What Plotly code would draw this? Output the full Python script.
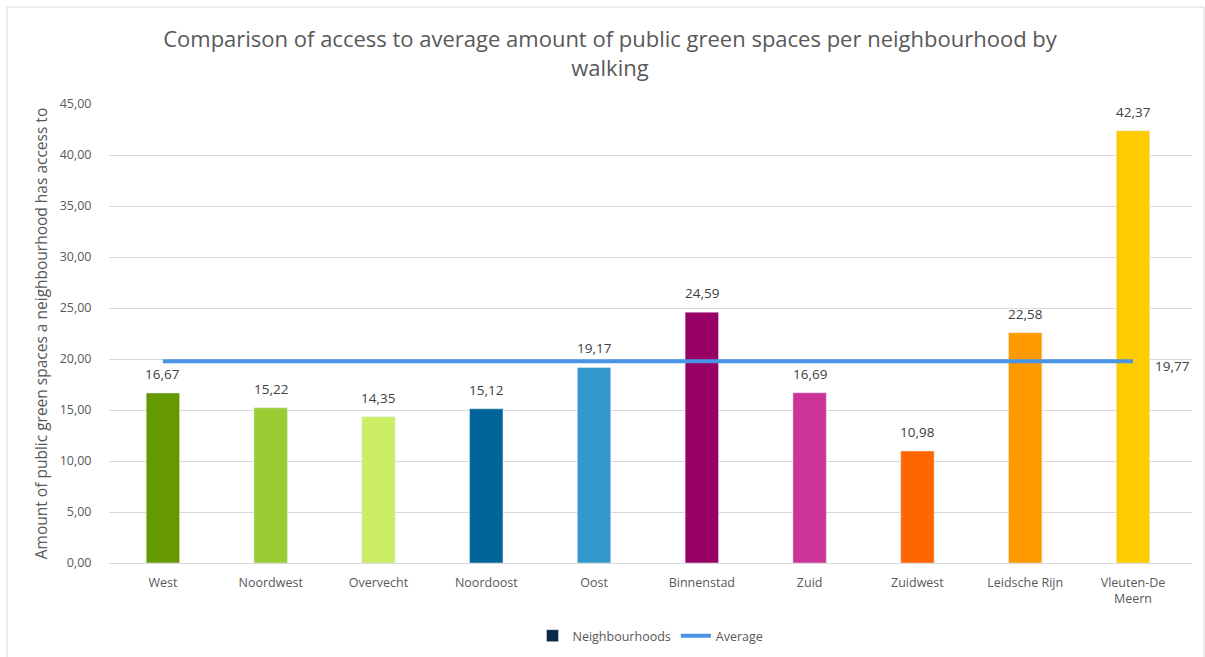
import plotly.graph_objects as go

categories = ["West", "Noordwest", "Overvecht", "Noordoost", "Oost", "Binnenstad",
              "Zuid", "Zuidwest", "Leidsche Rijn", "Vleuten-De Meern"]
tick_labels = ["West", "Noordwest", "Overvecht", "Noordoost", "Oost", "Binnenstad",
               "Zuid", "Zuidwest", "Leidsche Rijn", "Vleuten-De<br>Meern"]
values = [16.67, 15.22, 14.35, 15.12, 19.17, 24.59, 16.69, 10.98, 22.58, 42.37]
average = [19.77] * len(categories)
bar_colors = ["#669900", "#99cc33", "#ccee66", "#006699", "#3399cc",
              "#990066", "#cc3399", "#ff6600", "#ff9900", "#ffcc00"]

FONT = "Open Sans, Segoe UI, sans-serif"
GREY = "#595959"

fig = go.Figure()
fig.add_trace(go.Bar(
    x=categories, y=values, marker_color=bar_colors, width=0.31,
    showlegend=False, hoverinfo="x+y"))
# legend proxy
fig.add_trace(go.Bar(x=[categories[0]], y=[None], marker_color="#0b2a47",
                     name="Neighbourhoods", showlegend=True))
fig.add_trace(go.Scatter(x=categories, y=average, mode="lines", name="Average",
                         line=dict(color="#4a94e6", width=4)))

for c, v in zip(categories, values):
    fig.add_annotation(x=c, y=v, text=f"{v:.2f}".replace(".", ","), showarrow=False,
                       xanchor="center", yanchor="bottom", yshift=8,
                       font=dict(size=13.5, color="#404040", family=FONT))

fig.add_annotation(x=categories[-1], y=average[-1], text="19,77", showarrow=False,
                   xanchor="left", yanchor="middle", xshift=20, yshift=-5,
                   font=dict(size=13.5, color="#404040", family=FONT))

L, R, T, B = 109, 13, 104, 94
W, H = 1205, 657
pw, ph = W - L - R, H - T - B
fig.add_shape(type="rect", xref="paper", yref="paper",
              x0=(7 - L) / pw, x1=(1204 - L) / pw,
              y0=(H - B - 680) / ph, y1=(H - B - 7) / ph,
              line=dict(color="#d9d9d9", width=1), layer="below")

fig.update_layout(
    width=W, height=H,
    margin=dict(l=L, r=R, t=T, b=B, autoexpand=False),
    paper_bgcolor="white", plot_bgcolor="white",
    barmode="overlay",
    separators=",.",
    font=dict(family=FONT, color=GREY, size=12),
    title=dict(text="Comparison of access to average amount of public green spaces per neighbourhood by<br>walking",
               x=610 / W, xref="container", xanchor="center", y=1 - 47 / H, yanchor="middle",
               font=dict(size=22, color=GREY, family=FONT)),
    legend=dict(orientation="h", x=0.5, xanchor="center", y=(563 - 636) / ph, yanchor="middle",
                font=dict(size=12.5, color=GREY), traceorder="normal"),
    xaxis=dict(tickmode="array", tickvals=categories, ticktext=tick_labels,
               showgrid=False, showline=True, linecolor="#d9d9d9", linewidth=1,
               ticks="outside", ticklen=8, tickcolor="rgba(0,0,0,0)", automargin=False,
               tickfont=dict(size=12.5, color=GREY)),
    yaxis=dict(range=[0, 45], dtick=5, tickformat=".2f", showgrid=True,
               gridcolor="#d9d9d9", gridwidth=1, zeroline=False, automargin=False,
               ticks="outside", ticklen=14, tickcolor="rgba(0,0,0,0)",
               tickfont=dict(size=12.5, color=GREY),
               title=dict(text="Amount of public green spaces a neighbourhood has access to",
                          font=dict(size=15.5, color=GREY), standoff=8)),
)

fig.write_html("out.html")
